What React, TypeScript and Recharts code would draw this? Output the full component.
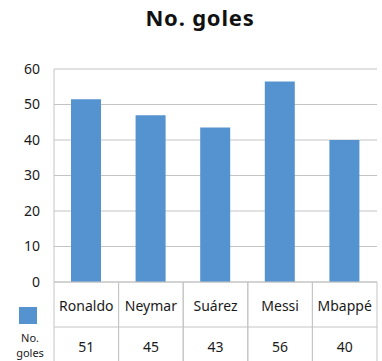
import React from 'react';
import { BarChart, Bar, XAxis, YAxis, CartesianGrid } from 'recharts';

const players = ['Ronaldo', 'Neymar', 'Suárez', 'Messi', 'Mbappé'];
// bar heights as drawn in the picture
const goalBars = [51.5, 47, 43.5, 56.5, 40];
// values printed in the data table under the chart
const goalLabels = ['51', '45', '43', '56', '40'];
const yTicks = [0, 10, 20, 30, 40, 50, 60];

const BAR_COLOR = '#5593d0';
const GRID_COLOR = '#c4c4c4';
const FONT = '"Noto Sans", sans-serif';

const W = 382;
const H = 361;
const MARGIN = { top: 69, right: 5, bottom: 0, left: 0 };
const Y_AXIS_W = 54;
const TABLE_H = 79;
const ROW_H = 45;

const data = players.map((name, i) => ({ name, goles: goalBars[i], label: goalLabels[i] }));
const cellW = (W - MARGIN.left - MARGIN.right - Y_AXIS_W) / players.length;

const TableTick = (props: any) => {
    const { x, y, payload, index } = props;
    const left = x - cellW / 2;
    const right = x + cellW / 2;
    return (
        <g>
            <line x1={left} y1={y} x2={left} y2={y + TABLE_H} stroke={GRID_COLOR} />
            <line x1={right} y1={y} x2={right} y2={y + TABLE_H} stroke={GRID_COLOR} />
            <line x1={left} y1={y + ROW_H} x2={right} y2={y + ROW_H} stroke={GRID_COLOR} />
            <text x={x} y={y + 23} textAnchor="middle" dominantBaseline="central" fontSize={14} fill="#1a1a1a" fontFamily={FONT}>
                {payload.value}
            </text>
            <text x={x} y={y + 64} textAnchor="middle" dominantBaseline="central" fontSize={14} fill="#1a1a1a" fontFamily={FONT}>
                {data[index].label}
            </text>
            {index === 0 && (
                <g>
                    <rect x={left - 35} y={y + 25} width={18} height={17} fill={BAR_COLOR} />
                    <text x={left - 24} y={y + 55} textAnchor="middle" dominantBaseline="central" fontSize={11} fill="#1a1a1a" fontFamily={FONT}>
                        No.
                    </text>
                    <text x={left - 24} y={y + 70} textAnchor="middle" dominantBaseline="central" fontSize={11} fill="#1a1a1a" fontFamily={FONT}>
                        goles
                    </text>
                </g>
            )}
        </g>
    );
};

export default function App() {
    return (
        <div style={{ position: 'absolute', left: 0, top: 0, width: W, height: H, background: '#fff', fontFamily: FONT }}>
            <div
                style={{
                    position: 'absolute',
                    left: 0,
                    top: 2,
                    width: W + 18,
                    textAlign: 'center',
                    fontSize: 22,
                    fontWeight: 700,
                    letterSpacing: 0.8,
                    color: '#111',
                }}
            >
                No. goles
            </div>
            <BarChart width={W} height={H} data={data} margin={MARGIN}>
                <CartesianGrid vertical={false} stroke={GRID_COLOR} />
                <XAxis
                    dataKey="name"
                    height={TABLE_H}
                    interval={0}
                    tickLine={false}
                    tickSize={0}
                    tickMargin={0}
                    axisLine={{ stroke: GRID_COLOR }}
                    tick={<TableTick />}
                />
                <YAxis
                    width={Y_AXIS_W}
                    domain={[0, 60]}
                    ticks={yTicks}
                    tickLine={false}
                    tickSize={0}
                    tickMargin={14}
                    axisLine={{ stroke: GRID_COLOR }}
                    tick={{ fill: '#1a1a1a', fontSize: 14, fontFamily: FONT }}
                />
                <Bar dataKey="goles" fill={BAR_COLOR} barSize={30} isAnimationActive={false} />
            </BarChart>
        </div>
    );
}
